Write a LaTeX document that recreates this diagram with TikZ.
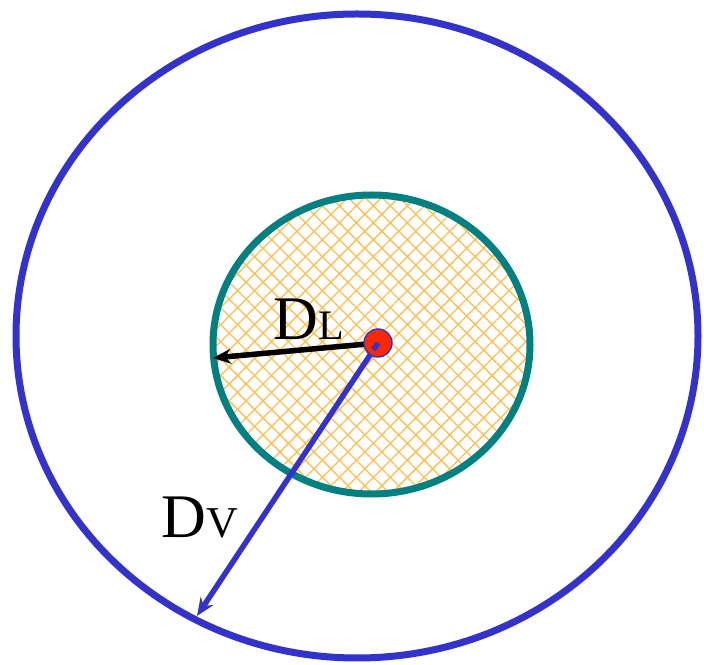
\documentclass[tikz,border=0pt]{standalone}
\usepackage{fontspec}
\setmainfont{Liberation Serif}
\usetikzlibrary{arrows.meta, patterns.meta}
\definecolor{colOuter}{RGB}{51,51,204}
\definecolor{colInner}{RGB}{0,128,128}
\definecolor{colHatch}{RGB}{255,190,80}
\definecolor{colDot}{RGB}{250,40,0}

\begin{document}
\begin{tikzpicture}[
  x=1pt, y=1pt,
  lbl/.style={font=\fontsize{62}{64}\selectfont, inner sep=0pt},
  arr/.style={-{Stealth[length=18pt, width=15pt]}, line width=5.5pt},
]
\useasboundingbox (0,0) rectangle (704,664);
% outer boundary
\draw[colOuter, line width=7pt] (357,328) ellipse [x radius=341, y radius=322];
% inner hatched region
\fill[pattern={Lines[angle=45, distance=12pt, line width=1.3pt]}, pattern color=colHatch]
  (371.5,319.5) ellipse [x radius=158.5, y radius=149.5];
\fill[pattern={Lines[angle=-45, distance=12pt, line width=1.3pt]}, pattern color=colHatch]
  (371.5,319.5) ellipse [x radius=158.5, y radius=149.5];
\draw[colInner, line width=7pt] (371.5,319.5) ellipse [x radius=158.5, y radius=149.5];
% centre point and radii
\coordinate (ctr) at (378,321);
\coordinate (endL) at (213,306);
\coordinate (endV) at (197,48);
\draw[arr, black] (ctr) -- (endL);
\draw[arr, colOuter] (ctr) -- (endV);
\node[circle, fill=colDot, draw=colOuter, line width=1.4pt, minimum size=28pt, inner sep=0pt] (dot) at (ctr) {};
\draw[colOuter, line width=5.5pt] (ctr) -- ++(-4.5,-6.8);
\node[lbl] (labL) at (309,345) {D{\fontsize{42}{44}\selectfont L}};
\node[lbl] (labV) at (200,146) {D{\fontsize{44}{46}\selectfont V}};
\end{tikzpicture}
\end{document}
